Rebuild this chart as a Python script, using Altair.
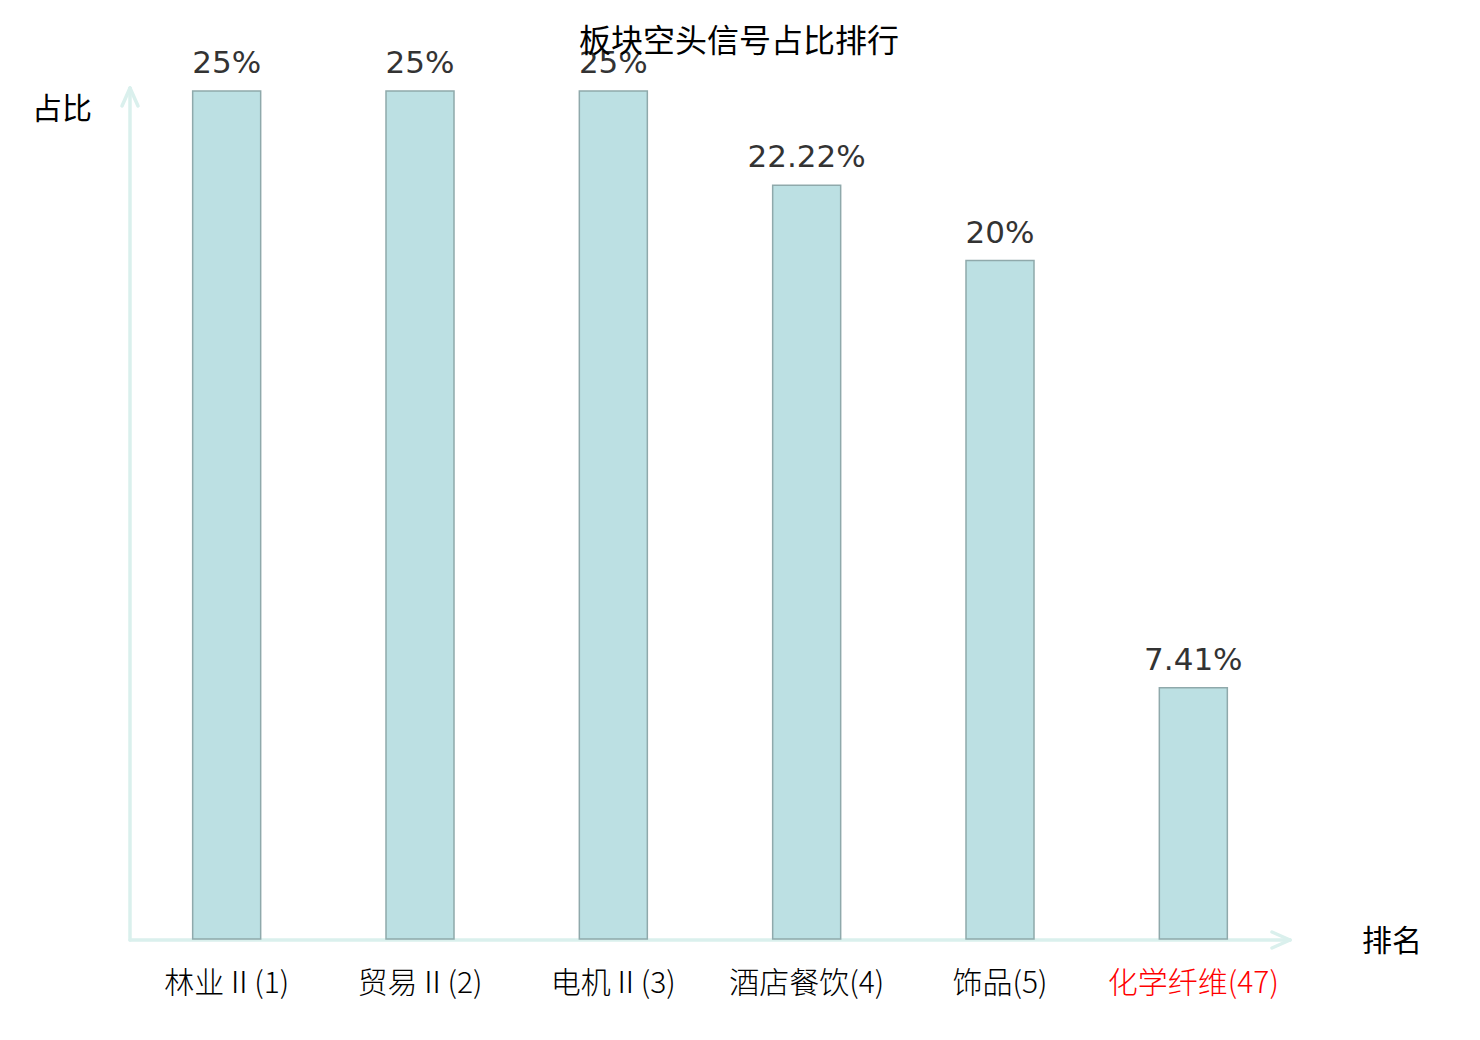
import altair as alt
import pandas as pd

categories = ["林业Ⅱ(1)", "贸易Ⅱ(2)", "电机Ⅱ(3)", "酒店餐饮(4)", "饰品(5)", "化学纤维(47)"]
values = [25, 25, 25, 22.22, 20, 7.41]
value_labels = ["25%", "25%", "25%", "22.22%", "20%", "7.41%"]
title_text = "板块空头信号占比排行"
y_title = "占比"
x_title = "排名"
highlight = "化学纤维(47)"

df = pd.DataFrame({"cat": categories, "val": values, "lab": value_labels})
one = pd.DataFrame({"k": [0]})

W, H = 1160, 848
AX = "#daf0ed"
CJK = "Noto Sans CJK SC"

xenc = alt.X("cat:N", sort=categories, title=None,
             scale=alt.Scale(paddingInner=0, paddingOuter=0),
             axis=alt.Axis(domain=False, ticks=False, labelAngle=0, labelFont=CJK,
                           labelFontSize=30, labelFontWeight=300, labelPadding=29,
                           labelColor=alt.expr(f"datum.value == '{highlight}' ? '#ff0000' : '#000000'")))
yenc = alt.Y("val:Q", scale=alt.Scale(domain=[0, 25], nice=False), axis=None)

bars = alt.Chart(df).mark_bar(size=68, color="#bce0e3", stroke="#8fa9ab", strokeWidth=1.5).encode(x=xenc, y=yenc)
texts = alt.Chart(df).mark_text(font="DejaVu Sans", fontSize=31, color="#333333",
                                baseline="alphabetic", dy=-18).encode(x=xenc, y=yenc, text="lab:N")

def rule(x1, y1, x2, y2):
    return alt.Chart(one).mark_rule(color=AX, strokeWidth=3.5, strokeCap="round").encode(
        x=alt.value(x1), y=alt.value(y1), x2=alt.value(x2), y2=alt.value(y2))

arrows = [
    rule(0, H + 1, W, H + 1),
    rule(W - 18, H - 7, W, H + 1),
    rule(W - 18, H + 9, W, H + 1),
    rule(0, -3, 0, H + 1),
    rule(-8, 15, 0, -3),
    rule(8, 15, 0, -3),
]

def label(txt, x, y, size=30, font=CJK, color="#000000"):
    return alt.Chart(one).mark_text(text=txt, font=font, fontSize=size, color=color,
                                    align="center", baseline="middle").encode(
        x=alt.value(x), y=alt.value(y))

title = label(title_text, 609, -49, size=32)
yt = label(y_title, -68, 19, size=30)
xt = label(x_title, 1262, 851, size=30)

chart = alt.layer(*arrows, bars, texts, title, yt, xt).properties(
    width=W, height=H,
    padding={"left": 122, "top": 83, "right": 180, "bottom": 90},
    autosize=alt.AutoSizeParams(type="none"),
).configure_view(stroke=None)

chart.save("out.html", embed_options={"renderer": "svg", "actions": False})
